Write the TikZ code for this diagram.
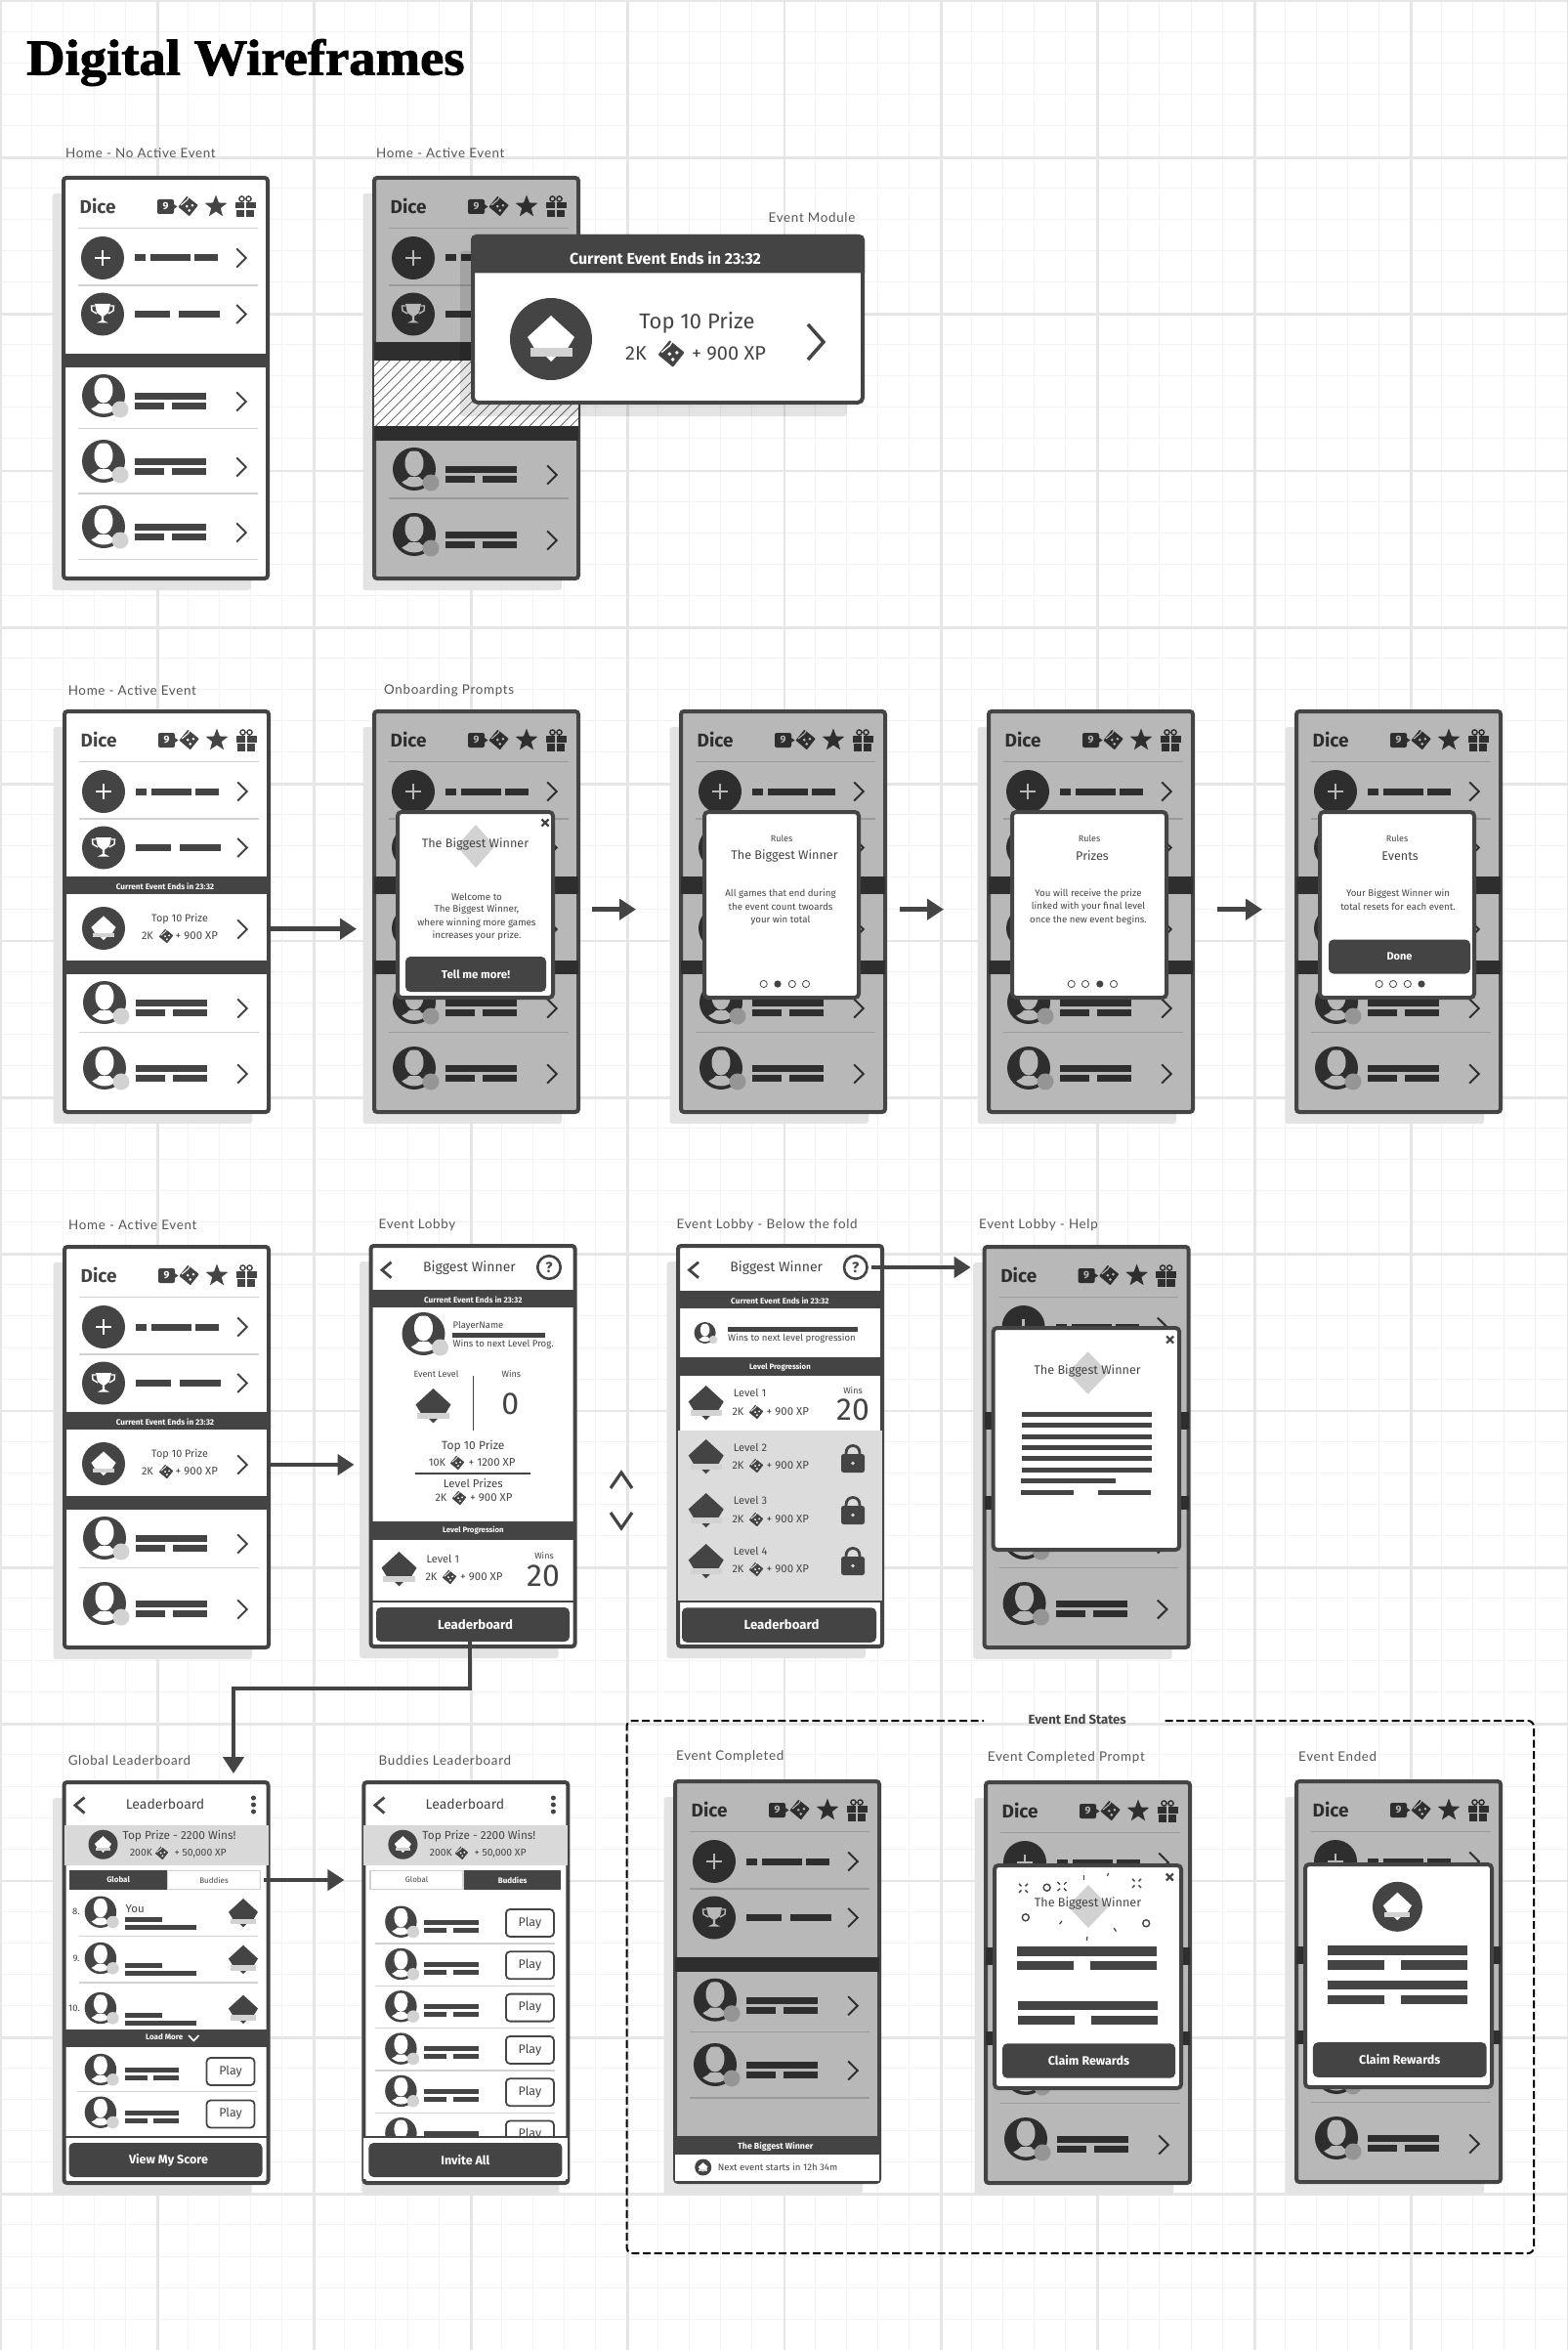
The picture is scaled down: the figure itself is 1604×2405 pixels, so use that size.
\documentclass[tikz,border=0pt]{standalone}
\usepackage{fontspec}
\setmainfont{Fira Sans}
\newfontfamily\lblfont[LetterSpace=5]{Lato}
\newfontfamily\ttlfont[BoldFeatures={FakeBold=1.6}]{Liberation Serif}
\usetikzlibrary{arrows.meta}
\definecolor{dk}{HTML}{444444}
\definecolor{shd}{HTML}{E3E3E3}
\definecolor{lgt}{HTML}{D2D2D2}
\definecolor{gridA}{HTML}{E6E6E6}
\definecolor{gridB}{HTML}{F3F3F3}
\definecolor{dimbg}{HTML}{B8B8B8}
\definecolor{dimink}{HTML}{2E2E2E}
\definecolor{dimbdg}{HTML}{959595}
\definecolor{dimdv}{HTML}{9A9A9A}
\definecolor{lvlgrey}{HTML}{DCDCDC}
\definecolor{lbl}{HTML}{555555}
\colorlet{scr}{white}\colorlet{ink}{dk}\colorlet{bdg}{lgt}\colorlet{dv}{lgt}
\newcommand\Lit{\colorlet{scr}{white}\colorlet{ink}{dk}\colorlet{bdg}{lgt}\colorlet{dv}{lgt}}
\newcommand\Dim{\colorlet{scr}{dimbg}\colorlet{ink}{dimink}\colorlet{bdg}{dimbdg}\colorlet{dv}{dimdv}}
\tikzset{
 txt/.style={inner sep=0pt,text=ink},
 framest/.style={draw=dk,line width=4pt,rounded corners=3pt,minimum width=209pt,minimum height=410pt,inner sep=0pt},
 popupst/.style={draw=dk,line width=4pt,rounded corners=4pt,fill=white},
 btnst/.style={fill=dk,rounded corners=5pt,inner sep=0pt,text=white},
 playst/.style={draw=ink,line width=1.8pt,rounded corners=4pt,fill=white,inner sep=0pt,text=ink},
 conn/.style={draw=dk,line width=4.5pt,-{Triangle[length=17pt,width=21pt]}},
 tabon/.style={fill=dk,text=white,inner sep=0pt,minimum height=20.3pt},
 taboff/.style={fill=white,draw=lgt,line width=1.5pt,text=ink,inner sep=0pt,minimum height=19pt},
 dvl/.style={draw=dv,line width=1.3pt}
}
\newcounter{tn}
\newcommand\T[5][]{\stepcounter{tn}\node[txt,name=t\arabic{tn},#1] at (#2,#3) {\fontsize{#4}{#4}\selectfont #5};}
\newcommand\Lb[3]{\stepcounter{tn}\node[inner sep=0pt,anchor=west,text=lbl,name=t\arabic{tn}] at (#1,#2) {\fontsize{13.4}{14}\lblfont #3};}
\newcommand\Chev[5]{\draw[ink,line width=#5pt,line join=miter] (#1-#3,#2-#4)--(#1+#3,#2)--(#1-#3,#2+#4);}
\newcommand\Die[3]{\begin{scope}[shift={(#1,#2)},scale=#3]
 \filldraw[ink,line join=round,line width=.14pt*#3] (-.1,-.88)--(.88,-.08)--(.12,.88)--(-.86,.06)--cycle;
 \draw[scr,line width=.1pt*#3] (-.7,-.1)--(-.08,-.62);
 \draw[scr,line width=.1pt*#3] (-.08,-.62)--(.1,-.95);
 \fill[scr] (.42,-.08) circle (.14);\fill[scr] (.12,.42) circle (.14);\fill[scr] (-.12,.02) circle (.14);
\end{scope}}
\newcommand\Gem[4]{\begin{scope}[shift={(#1,#2)},scale=#3]
 \fill[#4] (0,-24)--(24,-2)--(17,9.5)--(-17,9.5)--(-24,-2)--cycle;
 \fill[#4] (-6,17)--(6,17)--(0,23)--cycle;
 \fill[lgt] (-21.5,9) rectangle (21.5,17.6);
\end{scope}}
\newcommand\Emblem[3]{\fill[ink] (#1,#2) circle (#3);\Gem{#1}{#2}{#3/42}{white}}
\newcommand\Avatar[3]{\begin{scope}[shift={(#1,#2)},scale=#3/22]
 \fill[ink] (0,0) circle (22);
 \begin{scope}\clip (0,0) circle (18.5);
  \fill[scr] (-18,22) .. controls (-18,13) and (-7,12) .. (-5,8) -- (5,8) .. controls (7,12) and (18,13) .. (18,22) -- cycle;
  \fill[scr] (0,-6) ellipse [x radius=9.5,y radius=13.5];
 \end{scope}
 \fill[bdg] (17,14) circle (8.5);
\end{scope}}
\newcommand\PR[1]{\Avatar{43}{#1}{22}
 \fill[ink] (75,#1-3) rectangle (148,#1+4);
 \fill[ink] (75,#1+7) rectangle (105,#1+14);
 \fill[ink] (113,#1+7) rectangle (148,#1+14);
 \Chev{184}{#1+6}{4.8}{9.5}{2}}
\newcommand\Dvd[1]{\draw[dvl] (17,#1)--(200.5,#1);}
\newcommand\HomeTop{%
 \T[anchor=west]{18.5}{31}{19}{\bfseries Dice}
 \fill[ink,rounded corners=2pt] (98,24) rectangle (115,39);
 \fill[ink] (114,28.5)--(118.5,31.5)--(114,34.5)--cycle;
 \T{106.5}{31}{10.5}{\textcolor{scr}{\bfseries 9}}
 \Die{129.5}{31}{10.5}
 \fill[ink] (158,19.5)--(160.94,27.45)--(169.4,27.8)--(162.76,33.05)--(165.05,41.2)--(158,36.5)--(150.95,41.2)--(153.24,33.05)--(146.6,27.8)--(155.06,27.45)--cycle;
 \fill[ink] (177.5,27) rectangle (198.5,33.5);
 \fill[ink] (179,35) rectangle (197,42.5);
 \fill[scr] (187.2,27) rectangle (188.8,42.5);
 \draw[ink,line width=1.4pt] (184.5,23.5) circle (2.6);
 \draw[ink,line width=1.4pt] (191.5,23.5) circle (2.6);
 \draw[dvl,line width=1.5pt] (17,53.5)--(200.5,53.5);
 \fill[ink] (42,84) circle (22);
 \fill[scr] (40.7,76) rectangle (43.3,92);\fill[scr] (34,82.7) rectangle (50,85.3);
 \fill[ink] (75,80.5) rectangle (86,87.5);\fill[ink] (91,80.5) rectangle (132,87.5);\fill[ink] (136,80.5) rectangle (160,87.5);
 \Chev{184}{84}{4.8}{9.5}{2}
 \Dvd{112}
 \fill[ink] (42,141.5) circle (22);
 \fill[scr] (34,131)--(50,131)--(48,140)--(43.2,143.5)--(43.2,148)--(48,150.5)--(36,150.5)--(40.8,148)--(40.8,143.5)--(36,140)--cycle;
 \draw[scr,line width=1.4pt] (34,133)--(30.5,133)--(31,138)--(36,141);
 \draw[scr,line width=1.4pt] (50,133)--(53.5,133)--(53,138)--(48,141);
 \fill[ink] (75,138) rectangle (111,145);\fill[ink] (120,138) rectangle (162,145);
 \Chev{184}{141.5}{4.8}{9.5}{2}
}
\newcommand\Rew[7]{% y kx k diex dies px ptext
 \T{#2}{#1}{11}{#3}\Die{#4}{#1}{#5}\T[anchor=west]{#6-1.5}{#1}{11.4}{#7}}
\newcommand\HomeNoEvent{\HomeTop
 \fill[ink] (2,182) rectangle (211,196);
 \PR{225}\Dvd{258.5}\PR{292}\Dvd{325}\PR{359}\Dvd{392.5}}
\newcommand\HomeBase{\HomeTop
 \fill[ink] (2,170.7) rectangle (211,189);
 \Emblem{42}{224}{22}
 \Chev{184}{225}{4.8}{9.5}{2}
 \fill[ink] (2,256.7) rectangle (211,271);
 \PR{300}\Dvd{330.7}\PR{367}}
\newcommand\HomeEvent{\HomeBase
 \T{105}{181}{8.2}{\textcolor{white}{\bfseries Current Event Ends in 23:32}}
 \T{120}{214}{10.8}{Top 10 Prize}
 \Rew{232}{87}{2K}{106}{7.5}{117}{+ 900 XP}}
\newcommand\Screen[6][1]{% shadowleft name x y mode content
 \begin{scope}[shift={(#3,#4)}]#5
 \ifnum#1=1\relax\fill[shd,rounded corners=3pt] (-9.5,18) rectangle (194,424);\else\fill[shd,rounded corners=3pt] (0,18) rectangle (202,424);\fi
 \node[framest,fill=scr,name=#2] at (106.5,207) {};
 #6
 \end{scope}}
\newcommand\Popup[5]{\begin{scope}\Lit\draw[popupst] (#1,#2) rectangle (#3,#4);#5\end{scope}}
\newcommand\CloseX[2]{\draw[dk,line width=2.2pt] (#1-3.5,#2-3.5)--(#1+3.5,#2+3.5);\draw[dk,line width=2.2pt] (#1-3.5,#2+3.5)--(#1+3.5,#2-3.5);}
\newcommand\LDiamond[4]{\fill[lgt] (#1,#2-#4)--(#1+#3,#2)--(#1,#2+#4)--(#1-#3,#2)--cycle;}
\newcommand\Btn[7][]{\stepcounter{tn}\node[btnst,name=b\arabic{tn},minimum width=#4pt,minimum height=#5pt,#1] at (#2,#3) {\fontsize{#6}{#6}\selectfont\bfseries #7};}
\newcommand\RulesBase[2]{%
 \draw[popupst] (26,105) rectangle (184,295);
 \T{105}{131.7}{9}{Rules}
 \T{108}{150}{12.6}{#1}
 \foreach \i/\xx in {1/86.7,2/101,3/115.8,4/130}{
  \ifnum\i=#2\relax\fill[dk] (\xx,281) circle (3.6);\else\draw[dk,line width=.8pt] (\xx,281) circle (3.6);\fi}
}
\newcommand\HelpQ[3]{\node[circle,draw=dk,line width=2.6pt,minimum size=23.5pt,inner sep=0pt,text=dk,name=#1] at (#2,#3) {\fontsize{15}{15}\selectfont\bfseries ?};}
\newcommand\Back[1]{\draw[ink,line width=2.8pt] (23,#1-8)--(13.5,#1)--(23,#1+8);}
\newcommand\Lock[2]{%
 \draw[ink,line width=2.8pt] (#1-7,#2+11)--(#1-7,#2+8) .. controls (#1-7,#2-2) and (#1+7,#2-2) .. (#1+7,#2+8)--(#1+7,#2+11);
 \fill[ink,rounded corners=2.5pt] (#1-12,#2+9) rectangle (#1+12,#2+28);
 \fill[lvlgrey] (#1,#2+18.5) circle (1.8);}
\newcommand\LBHead{%
 \Back{25.5}
 \T{105.5}{24}{14}{Leaderboard}
 \fill[ink] (196,18) circle (2.5);\fill[ink] (196,25) circle (2.5);\fill[ink] (196,32) circle (2.5);
 \fill[lgt!85!white] (2,46) rectangle (211,87);
 \Emblem{42}{65.7}{15}
 \T{120}{57}{11.8}{Top Prize - 2200 Wins!}
 \T{81}{74.3}{10.4}{200K}\Die{102}{74.3}{7}\T[anchor=west]{115}{74.3}{10.4}{+ 50,000 XP}
}
\begin{document}
\begin{tikzpicture}[x=1pt,y=-1pt]
\useasboundingbox (0,0) rectangle (1604,2405);
\fill[white] (0,0) rectangle (1604,2405);
\foreach \i in {0,...,50}{\draw[gridB,line width=1pt] (\i*32.08,0)--(\i*32.08,2405);}
\foreach \i in {0,...,75}{\draw[gridB,line width=1pt] (0,\i*32.07)--(1604,\i*32.07);}
\foreach \i in {0,...,10}{\draw[gridA,line width=2.8pt] (\i*160.4+1,0)--(\i*160.4+1,2405);}
\foreach \i in {0,...,15}{\draw[gridA,line width=2.8pt] (0,\i*160.33+1)--(1604,\i*160.33+1);}

\node[inner sep=0pt,anchor=west,text=black,name=title] at (27,64) {\scalebox{1.05}[1]{\fontsize{52}{54}\ttlfont\bfseries Digital Wireframes}};

% labels
\Lb{67}{156.6}{Home - No Active Event}
\Lb{385}{156.6}{Home - Active Event}
\Lb{786.5}{223}{Event Module}
\Lb{69.6}{707}{Home - Active Event}
\Lb{393}{707}{Onboarding Prompts}
\Lb{70}{1254}{Home - Active Event}
\Lb{387.5}{1254}{Event Lobby}
\Lb{692.5}{1254}{Event Lobby - Below the fold}
\Lb{1002}{1254}{Event Lobby - Help}
\Lb{69.6}{1802}{Global Leaderboard}
\Lb{387.5}{1802}{Buddies Leaderboard}
\Lb{692}{1798}{Event Completed}
\Lb{1010.7}{1799}{Event Completed Prompt}
\Lb{1329}{1798}{Event Ended}

% ROW 1
\Screen{f11}{63}{180}{\Lit}{\HomeNoEvent}
\Screen{f12}{381}{180}{\Dim}{\HomeTop
 \fill[ink] (2,170) rectangle (211,189);
 \fill[white] (2,189) rectangle (211,256);
 \begin{scope}\clip (2,189) rectangle (211,256);
  \foreach \a in {-70,-59.5,...,210}{\draw[lbl,line width=.7pt] (\a,256)--(\a+67,189);}
 \end{scope}
 \fill[ink] (2,256) rectangle (211,271);
 \PR{300}\Dvd{330}\PR{367}}
\fill[black,opacity=.11,rounded corners=3pt] (471,257) rectangle (867,426);
\begin{scope}\Lit
 \draw[popupst,rounded corners=5pt] (484,242) rectangle (883,412);
 \fill[dk] (482,279.5) [rounded corners=5pt] -- (482,240) -- (885,240) [sharp corners] -- (885,279.5) -- cycle;
 \T{681}{264}{16}{\textcolor{white}{\bfseries Current Event Ends in 23:32}}
 \Emblem{564}{347}{42}
 \T{713.5}{330}{22}{Top 10 Prize}
 \T{651}{362}{20}{2K}\Die{687}{362}{14}\T[anchor=west]{708}{362}{20}{+ 900 XP}
 \Chev{835}{350}{8}{18}{3.5}
\end{scope}

% ROW 2
\Screen{f21}{64}{726}{\Lit}{\HomeEvent}
\Screen{f22}{381}{726}{\Dim}{\HomeBase
 \Popup{26}{105}{185}{295}{
  \CloseX{177}{116}
  \LDiamond{106}{140}{19.6}{22}
  \T{105.5}{138}{12.6}{The Biggest Winner}
  \T{107}{191.7}{9.8}{Welcome to}
  \T{107}{204.7}{9.8}{The Biggest Winner,}
  \T{107}{219}{9.8}{where winning more games}
  \T{107}{232}{9.8}{increases your prize.}
  \Btn{106}{271}{144}{36}{11.5}{Tell me more!}
 }}
\Screen{f23}{695}{726}{\Dim}{\HomeBase
 \begin{scope}\Lit\RulesBase{The Biggest Winner}{2}
  \T{104}{189}{9.7}{All games that end during}
  \T{104}{201.7}{9.7}{the event count twoards}
  \T{104}{215.7}{9.7}{your win total}
 \end{scope}}
\Screen{f24}{1010}{726}{\Dim}{\HomeBase
 \begin{scope}\Lit\RulesBase{Prizes}{3}
  \T{104}{189}{9.7}{You will receive the prize}
  \T{104}{201.7}{9.7}{linked with your final level}
  \T{104}{215.7}{9.7}{once the new event begins.}
 \end{scope}}
\Screen{f25}{1325}{726}{\Dim}{\HomeBase
 \begin{scope}\Lit\RulesBase{Events}{4}
  \T{106}{189}{9.7}{Your Biggest Winner win}
  \T{106}{201.7}{9.7}{total resets for each event.}
  \Btn{107.5}{253}{145}{35}{11}{Done}
 \end{scope}}
\draw[conn,shorten >=16pt] (f21.east |- 0,950.7) -- (f22.west |- 0,950.7);
\draw[conn,shorten <=12pt,shorten >=44pt] (f22.east |- 0,930.7) -- (f23.west |- 0,930.7);
\draw[conn,shorten <=13pt,shorten >=44pt] (f23.east |- 0,930.7) -- (f24.west |- 0,930.7);
\draw[conn,shorten <=23pt,shorten >=33pt] (f24.east |- 0,930.7) -- (f25.west |- 0,930.7);

% ROW 3
\Screen{f31}{64}{1274}{\Lit}{\HomeEvent}
\Screen{f32}{377.5}{1273}{\Lit}{
 \Back{26.7}
 \T{103}{25}{14}{Biggest Winner}
 \HelpQ{qa}{184.5}{24}
 \fill[ink] (2,47) rectangle (211,65);
 \T{106.8}{57}{8.2}{\textcolor{white}{\bfseries Current Event Ends in 23:32}}
 \Avatar{56}{92}{22}
 \T[anchor=west]{86}{83.7}{9.5}{PlayerName}
 \fill[ink] (85,91) rectangle (180,96.3);
 \T[anchor=west]{86}{102.7}{9.6}{Wins to next Level Prog.}
 \T{69}{132.7}{9}{Event Level}
 \T{145.8}{132.7}{9}{Wins}
 \draw[ink,line width=1.6pt] (106.9,135)--(106.9,191);
 \T{144.7}{164}{32}{0}
 \Gem{66}{166}{.75}{ink}
 \T{106.8}{207}{12}{Top 10 Prize}
 \Rew{224}{70}{10K}{90.5}{7.5}{103.5}{+ 1200 XP}
 \draw[ink,line width=1.6pt] (47,235)--(165.7,235);
 \T{106.8}{245}{11.5}{Level Prizes}
 \Rew{260}{74}{2K}{92.5}{7.5}{105}{+ 900 XP}
 \fill[ink] (2,284) rectangle (211,303);
 \T{106.9}{293}{7.8}{\textcolor{white}{\bfseries Level Progression}}
 \Gem{31}{333}{.75}{ink}
 \T[anchor=west]{59}{322}{11}{Level 1}
 \Rew{341}{64}{2K}{82.5}{7.5}{95}{+ 900 XP}
 \T{179.5}{318.7}{9}{Wins}
 \T{178.5}{340}{32}{20}
 \draw[ink,line width=1.6pt] (2,366)--(211,366);
 \node[btnst,name=lobbybtn,minimum width=198pt,minimum height=35pt] at (106.5,389.5) {\hspace*{5pt}\fontsize{13.2}{13.2}\selectfont\bfseries Leaderboard};
}
\Screen{f33}{692}{1273}{\Lit}{
 \fill[lvlgrey] (2,191) rectangle (211,366);
 \Back{26.7}
 \T{102.7}{25}{14}{Biggest Winner}
 \HelpQ{qb}{183.8}{24}
 \fill[ink] (2,48) rectangle (211,66);
 \T{106.4}{58}{8.2}{\textcolor{white}{\bfseries Current Event Ends in 23:32}}
 \Avatar{29.6}{91}{11}
 \fill[ink] (52.5,84.7) rectangle (186,89.7);
 \T[anchor=west]{53}{96.7}{9.6}{Wins to next level progression}
 \fill[ink] (2,116) rectangle (211,134.7);
 \T{106.4}{126}{7.8}{\textcolor{white}{\bfseries Level Progression}}
 \Gem{30.7}{163}{.75}{ink}
 \Gem{30.7}{218}{.75}{ink}
 \Gem{30.7}{273}{.75}{ink}
 \Gem{30.7}{325}{.75}{ink}
 \T[anchor=west]{58.7}{152}{11}{Level 1}
 \T[anchor=west]{58.7}{208}{11}{Level 2}
 \T[anchor=west]{58.7}{262}{11}{Level 3}
 \T[anchor=west]{58.7}{314}{11}{Level 4}
 \Rew{172}{63.5}{2K}{82}{7.5}{94}{+ 900 XP}
 \Rew{227}{63.5}{2K}{82}{7.5}{94}{+ 900 XP}
 \Rew{282}{63.5}{2K}{82}{7.5}{94}{+ 900 XP}
 \Rew{333}{63.5}{2K}{82}{7.5}{94}{+ 900 XP}
 \T{181}{149.7}{9}{Wins}
 \T{181}{170}{32}{20}
 \Lock{181}{206}\Lock{181}{259}\Lock{181}{311}
 \draw[ink,line width=1.6pt] (2,366)--(211,366);
 \Btn{105.5}{390}{199}{35.5}{13.2}{\hspace*{5pt}Leaderboard}
}
\Screen{f34}{1005.6}{1274}{\Dim}{\HomeBase
 \Popup{11}{85}{201.6}{312}{
  \CloseX{192}{97}
  \LDiamond{108}{131}{21}{21.7}
  \T{107.5}{128.7}{12.6}{The Biggest Winner}
  \foreach \yy in {173.3,184.3,196,207.3,218.7,230.3}{\fill[dk] (40,\yy-2.5) rectangle (173,\yy+2.5);}
  \fill[dk] (39.5,239) rectangle (136,244.3);
  \fill[dk] (39.5,250.7) rectangle (93.5,256);
  \fill[dk] (118,250.7) rectangle (172,256);
 }}
\draw[conn,shorten >=15pt] (f31.east |- 0,1499) -- (f32.west |- 0,1499);
\draw[conn,shorten <=3pt,shorten >=12pt] (qb.east) -- (f34.west |- qb.east);
% scroll chevrons
\draw[dk,line width=3.2pt] (625,1523)--(636,1507)--(647,1523);
\draw[dk,line width=3.2pt] (625,1548)--(636,1564)--(647,1548);

% ROW 4
\Screen{f41}{63.5}{1822}{\Lit}{\LBHead
 \node[tabon,name=tg1,minimum width=100pt] at (57.6,102) {\fontsize{8}{8}\selectfont\bfseries Global};
 \node[taboff,name=tb1,minimum width=95pt] at (155.6,102) {\fontsize{8}{8}\selectfont Buddies};
 \T{14.4}{134.7}{9.5}{8.}\Avatar{39.4}{134.7}{16.2}
 \T[anchor=west]{65}{132}{11.5}{You}
 \fill[ink] (64,139.8) rectangle (102,144.8);\fill[ink] (64,147.8) rectangle (137,152.8);
 \Gem{185.5}{136}{.625}{ink}
 \draw[dvl] (17,159.7)--(200.5,159.7);
 \T{14.4}{182}{9.5}{9.}\Avatar{39.4}{182}{16.2}
 \fill[ink] (64,187.2) rectangle (102,192.2);\fill[ink] (64,195.2) rectangle (137,200.2);
 \Gem{185.5}{183.7}{.625}{ink}
 \draw[dvl] (17,207)--(200.5,207);
 \T{12.5}{233}{9.5}{10.}\Avatar{39.4}{233}{16.2}
 \fill[ink] (64,237.8) rectangle (102,242.8);\fill[ink] (64,245.8) rectangle (137,250.8);
 \Gem{185.5}{234.7}{.625}{ink}
 \fill[ink] (2,254.7) rectangle (211,273);
 \T{104.7}{263}{8}{\textcolor{white}{\bfseries Load More}}
 \draw[white,line width=1.6pt] (129.5,261)--(134.8,266.5)--(140,261);
 \Avatar{39.4}{296}{16.2}
 \fill[ink] (64.4,293.8) rectangle (119.4,298.8);
 \fill[ink] (64.4,301.8) rectangle (87,306.8);\fill[ink] (93.5,301.8) rectangle (119.4,306.8);
 \node[playst,name=p11,minimum width=49pt,minimum height=28pt] at (172.5,298) {\fontsize{12.5}{12.5}\selectfont Play};
 \draw[dvl] (15,318.7)--(199,318.7);
 \Avatar{39.4}{339.7}{16.2}
 \fill[ink] (64.4,337.5) rectangle (119.4,342.5);
 \fill[ink] (64.4,345.5) rectangle (87,350.5);\fill[ink] (93.5,345.5) rectangle (119.4,350.5);
 \node[playst,name=p12,minimum width=49pt,minimum height=28pt] at (172.5,341.5) {\fontsize{12.5}{12.5}\selectfont Play};
 \draw[ink,line width=1.6pt] (2,364.7)--(211,364.7);
 \Btn{106}{388.5}{198}{35}{12.5}{\hspace*{6pt}View My Score}
}
\Screen[0]{f42}{370.4}{1822}{\Lit}{\LBHead
 \node[taboff,name=tg2,minimum width=95pt] at (56.2,102) {\fontsize{8}{8}\selectfont Global};
 \node[tabon,name=tb2,minimum width=99.4pt] at (154.3,102) {\fontsize{8}{8}\selectfont\bfseries Buddies};
 \foreach \k/\lab in {0/a,1/b,2/c,3/d,4/e,5/f}{
  \pgfmathsetmacro\yy{144.7+43.3*\k}
  \Avatar{40}{\yy}{16.2}
  \fill[ink] (64,\yy-2.2) rectangle (120,\yy+2.8);
  \fill[ink] (64,\yy+5.8) rectangle (86.6,\yy+10.8);\fill[ink] (93.3,\yy+5.8) rectangle (120,\yy+10.8);
  \node[playst,name=pb\lab,minimum width=49pt,minimum height=28pt] at (172,\yy+1.3) {\fontsize{12.5}{12.5}\selectfont Play};
  \ifnum\k<5\relax\draw[dvl] (13.6,\yy+22.3)--(197.6,\yy+22.3);\fi
 }
 \fill[white] (2,364.7) rectangle (211,408);
 \draw[ink,line width=1.6pt] (2,364.7)--(211,364.7);
 \Btn{106}{388.5}{198}{35}{12.5}{Invite All}
}
\draw[conn,shorten <=3pt,shorten >=18pt] (tb1.east) -- (f42.west |- tb1.east);
\coordinate (el1) at (481,1728);
\coordinate (el2) at (239,1728);
\draw[conn,shorten >=7pt] (481,0 |- lobbybtn.south) -- (el1) -- (el2) -- (239,0 |- f41.north);

% Event end states
\draw[black,line width=2pt,dash pattern=on 8pt off 3.6pt,rounded corners=6pt] (1192.5,1761) -- (1570,1761) -- (1570,2306) -- (641.5,2306) -- (641.5,1761) -- (1007,1761);
\T{1102.7}{1760}{13.2}{\bfseries Event End States}

\Screen{f43}{689}{1821}{\Dim}{\HomeTop
 \fill[ink] (2,182) rectangle (211,196.7);
 \PR{225.7}\Dvd{258.7}\PR{292}\Dvd{326}
 \fill[dk] (2,365) rectangle (211,383.7);
 \T{104.8}{376.3}{8.8}{\textcolor{white}{\bfseries The Biggest Winner}}
 \fill[white] (2,383.7) rectangle (211,411);
 \begin{scope}\Lit
 \Emblem{30.7}{397}{8.5}
 \T[anchor=west]{45.6}{397}{9.6}{Next event starts in 12h 34m}
 \end{scope}
}
\Screen{f44}{1007}{1822}{\Dim}{\HomeBase
 \Popup{11}{87}{202}{315}{
  \CloseX{190.3}{99}
  \LDiamond{107}{129}{21}{22}
  \T{106.5}{125.7}{12.6}{The Biggest Winner}
  \foreach \cx/\cy in {40.5/110.3,80/108.7,156.5/105.3}{
   \draw[dk,line width=1.4pt] (\cx-4.5,\cy-4.5)--(\cx-2,\cy-2);
   \draw[dk,line width=1.4pt] (\cx+4.5,\cy-4.5)--(\cx+2,\cy-2);
   \draw[dk,line width=1.4pt] (\cx-4.5,\cy+4.5)--(\cx-2,\cy+2);
   \draw[dk,line width=1.4pt] (\cx+4.5,\cy+4.5)--(\cx+2,\cy+2);}
  \draw[dk,line width=1.4pt] (64.6,109.7) circle (3.5);
  \draw[dk,line width=1.4pt] (42.8,140.3) circle (3.5);
  \draw[dk,line width=1.4pt] (166.2,146.3) circle (3.5);
  \draw[dk,line width=1.2pt] (102.5,97)--(102.5,102);
  \draw[dk,line width=1.2pt] (127.5,95)--(126.5,98);
  \draw[dk,line width=1.2pt] (80,144)--(77.5,147);
  \draw[dk,line width=1.2pt] (133,151)--(135.5,154.5);
  \draw[dk,line width=1.2pt] (106,160)--(105.3,164);
  \fill[dk] (33.6,170.3) rectangle (176.5,179.7);
  \fill[dk] (33.6,185) rectangle (91.6,194.3);\fill[dk] (108.8,185) rectangle (176.5,194.3);
  \fill[dk] (35,226) rectangle (178,235.3);
  \fill[dk] (35,240.7) rectangle (93,250);\fill[dk] (110,240.7) rectangle (178,250);
  \Btn{107.5}{287}{177}{35.4}{12.5}{Claim Rewards}
 }}
\Screen{f45}{1325}{1821}{\Dim}{\HomeBase
 \Popup{11}{87}{202}{315}{
  \Emblem{105.4}{130.3}{25.5}
  \fill[dk] (34,170.3) rectangle (177,180);
  \fill[dk] (34,185) rectangle (92,194.7);\fill[dk] (109.4,185) rectangle (177,194.7);
  \fill[dk] (34,206) rectangle (177,215.3);
  \fill[dk] (34,220.7) rectangle (92,230);\fill[dk] (109.4,220.7) rectangle (177,230);
  \Btn{107.8}{287}{177.7}{35.7}{12.5}{Claim Rewards}
 }}
\end{tikzpicture}
\end{document}
